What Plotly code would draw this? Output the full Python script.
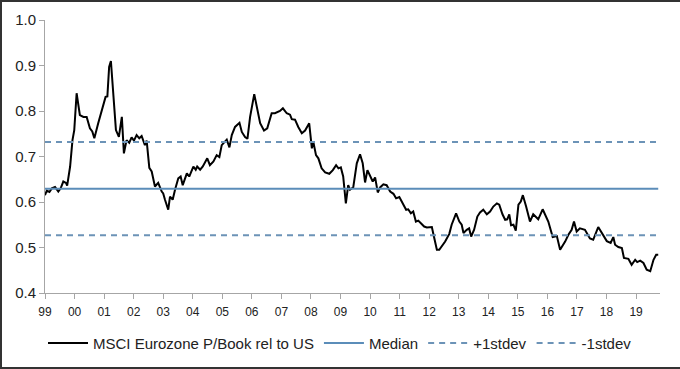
import plotly.graph_objects as go

# Time (fractional years) and MSCI Eurozone P/Book relative to US
years = [1999.00, 1999.06, 1999.15, 1999.23, 1999.34, 1999.45, 1999.53, 1999.62, 1999.71, 1999.75,
         1999.85, 1999.93, 1999.99, 2000.07, 2000.18, 2000.30, 2000.41, 2000.52, 2000.60, 2000.67,
         2000.80, 2000.97, 2001.05, 2001.11, 2001.17, 2001.23, 2001.31, 2001.40, 2001.50, 2001.60,
         2001.67, 2001.76, 2001.85, 2001.93, 2002.01, 2002.10, 2002.19, 2002.27, 2002.38, 2002.44,
         2002.53, 2002.61, 2002.72, 2002.83, 2002.95, 2003.00, 2003.06, 2003.17, 2003.23, 2003.32,
         2003.40, 2003.51, 2003.59, 2003.66, 2003.80, 2003.88, 2004.02, 2004.10, 2004.15, 2004.25,
         2004.34, 2004.41, 2004.49, 2004.58, 2004.70, 2004.81, 2004.90, 2004.98, 2005.09, 2005.15,
         2005.24, 2005.32, 2005.43, 2005.58, 2005.66, 2005.77, 2005.85, 2005.94, 2006.08, 2006.18,
         2006.28, 2006.41, 2006.52, 2006.67, 2006.78, 2006.95, 2007.05, 2007.18, 2007.29, 2007.35,
         2007.46, 2007.57, 2007.69, 2007.80, 2007.94, 2008.03, 2008.08, 2008.17, 2008.25, 2008.36,
         2008.48, 2008.62, 2008.74, 2008.85, 2008.93, 2009.01, 2009.09, 2009.18, 2009.26, 2009.32,
         2009.43, 2009.55, 2009.66, 2009.75, 2009.83, 2009.91, 2010.00, 2010.09, 2010.17, 2010.26,
         2010.34, 2010.45, 2010.56, 2010.68, 2010.79, 2010.88, 2010.99, 2011.07, 2011.12, 2011.22,
         2011.29, 2011.38, 2011.46, 2011.55, 2011.63, 2011.71, 2011.83, 2011.92, 2012.09, 2012.16,
         2012.26, 2012.34, 2012.42, 2012.54, 2012.68, 2012.76, 2012.91, 2013.02, 2013.10, 2013.16,
         2013.27, 2013.35, 2013.42, 2013.52, 2013.63, 2013.72, 2013.83, 2013.95, 2014.06, 2014.17,
         2014.29, 2014.37, 2014.48, 2014.57, 2014.64, 2014.71, 2014.77, 2014.85, 2014.93, 2015.02,
         2015.10, 2015.17, 2015.28, 2015.41, 2015.52, 2015.69, 2015.84, 2016.03, 2016.18, 2016.32,
         2016.43, 2016.60, 2016.71, 2016.82, 2016.90, 2016.99, 2017.10, 2017.27, 2017.44, 2017.55,
         2017.72, 2017.84, 2018.01, 2018.14, 2018.23, 2018.29, 2018.40, 2018.52, 2018.59, 2018.74,
         2018.85, 2018.97, 2019.04, 2019.14, 2019.25, 2019.36, 2019.48, 2019.59, 2019.68, 2019.75]

pb_rel = [0.615, 0.625, 0.622, 0.630, 0.633, 0.623, 0.630, 0.645, 0.642, 0.636,
          0.678, 0.736, 0.758, 0.839, 0.791, 0.787, 0.787, 0.762, 0.755, 0.740,
          0.773, 0.809, 0.831, 0.832, 0.897, 0.910, 0.839, 0.758, 0.743, 0.787,
          0.707, 0.736, 0.730, 0.742, 0.735, 0.747, 0.740, 0.745, 0.725, 0.735,
          0.675, 0.667, 0.634, 0.642, 0.623, 0.619, 0.605, 0.583, 0.612, 0.605,
          0.627, 0.652, 0.656, 0.637, 0.663, 0.656, 0.678, 0.671, 0.678, 0.671,
          0.678, 0.685, 0.696, 0.681, 0.689, 0.703, 0.699, 0.725, 0.732, 0.737,
          0.720, 0.747, 0.765, 0.774, 0.754, 0.743, 0.739, 0.787, 0.837, 0.802,
          0.773, 0.757, 0.762, 0.795, 0.795, 0.800, 0.806, 0.795, 0.792, 0.782,
          0.781, 0.765, 0.751, 0.757, 0.773, 0.718, 0.732, 0.703, 0.696, 0.674,
          0.665, 0.662, 0.670, 0.681, 0.674, 0.676, 0.656, 0.597, 0.637, 0.627,
          0.632, 0.685, 0.705, 0.685, 0.643, 0.670, 0.659, 0.645, 0.654, 0.621,
          0.632, 0.639, 0.637, 0.623, 0.618, 0.608, 0.611, 0.600, 0.597, 0.583,
          0.584, 0.575, 0.579, 0.557, 0.559, 0.554, 0.546, 0.544, 0.545, 0.524,
          0.495, 0.495, 0.502, 0.513, 0.530, 0.550, 0.575, 0.557, 0.550, 0.532,
          0.539, 0.542, 0.524, 0.539, 0.568, 0.577, 0.583, 0.573, 0.579, 0.590,
          0.597, 0.594, 0.573, 0.561, 0.562, 0.573, 0.549, 0.550, 0.537, 0.594,
          0.601, 0.615, 0.590, 0.557, 0.573, 0.562, 0.584, 0.557, 0.523, 0.525,
          0.495, 0.513, 0.528, 0.539, 0.557, 0.535, 0.542, 0.539, 0.520, 0.517,
          0.545, 0.532, 0.514, 0.510, 0.523, 0.506, 0.501, 0.499, 0.477, 0.475,
          0.462, 0.473, 0.468, 0.471, 0.466, 0.451, 0.448, 0.473, 0.484, 0.484]

median_val = 0.629
plus_sd = 0.732
minus_sd = 0.527
ref_span = [1999.0, 2019.75]

tick_years = list(range(1999, 2020))
tick_labels = ["99"] + [f"{y % 100:02d}" for y in range(2000, 2020)]

FONT = "Liberation Sans, Arial, sans-serif"
MED_COL = "#5B8DB9"
SD_COL = "#6C93B7"

fig = go.Figure()
fig.add_trace(go.Scatter(x=years, y=pb_rel, mode="lines",
                         name="MSCI Eurozone P/Book rel to US",
                         line=dict(color="black", width=2)))
fig.add_trace(go.Scatter(x=ref_span, y=[median_val] * 2, mode="lines",
                         name="Median", line=dict(color=MED_COL, width=2)))
fig.add_trace(go.Scatter(x=ref_span, y=[plus_sd] * 2, mode="lines",
                         name="+1stdev", line=dict(color=SD_COL, width=2, dash="6px,5px")))
fig.add_trace(go.Scatter(x=ref_span, y=[minus_sd] * 2, mode="lines",
                         name="-1stdev", line=dict(color=SD_COL, width=2, dash="6px,5px")))

L, R, T, B = 45, 20, 20, 76

fig.update_layout(
    width=680, height=369,
    margin=dict(l=L, r=R, t=T, b=B, autoexpand=False),
    paper_bgcolor="white", plot_bgcolor="white",
    font=dict(family=FONT, color="#222222"),
    showlegend=True,
    legend=dict(orientation="h", xref="container", x=0.5, xanchor="center",
                yref="container", y=0.07, yanchor="middle",
                bgcolor="rgba(0,0,0,0)", borderwidth=0,
                font=dict(size=15, family=FONT, color="#222222"),
                itemwidth=40, tracegroupgap=0),
    xaxis=dict(range=[1999, 2019.81], tickmode="array", tickvals=tick_years,
               ticktext=tick_labels, showgrid=False, zeroline=False,
               showline=True, linecolor="#A6A6A6", linewidth=1,
               ticks="outside", ticklen=5, tickcolor="#A6A6A6",
               ticklabelstandoff=3,
               tickfont=dict(size=12, family=FONT, color="#222222")),
    yaxis=dict(range=[0.4, 1.0], dtick=0.1, tickformat=".1f", showgrid=False,
               zeroline=False, showline=True, linecolor="#A6A6A6", linewidth=1,
               ticks="outside", ticklen=5, tickcolor="#A6A6A6",
               tickfont=dict(size=15, family=FONT, color="#222222")),
)

frame_js = (
    "document.body.style.margin='0';document.body.style.overflow='hidden';"
    "var c=document.createElement('div');"
    "c.style.cssText='position:fixed;left:663px;top:3px;width:30px;height:362px;"
    "background:#fff;pointer-events:none;z-index:9;';"
    "document.body.appendChild(c);"
    "var f=document.createElement('div');"
    "f.style.cssText='position:fixed;left:0;top:0;width:700px;height:369px;box-sizing:border-box;"
    "border-left:2px solid #333;border-top:2px solid #333;border-bottom:2px solid #333;"
    "pointer-events:none;z-index:10;';"
    "document.body.appendChild(f);"
)
fig.write_html("out.html", config={"displayModeBar": False}, post_script=frame_js)
